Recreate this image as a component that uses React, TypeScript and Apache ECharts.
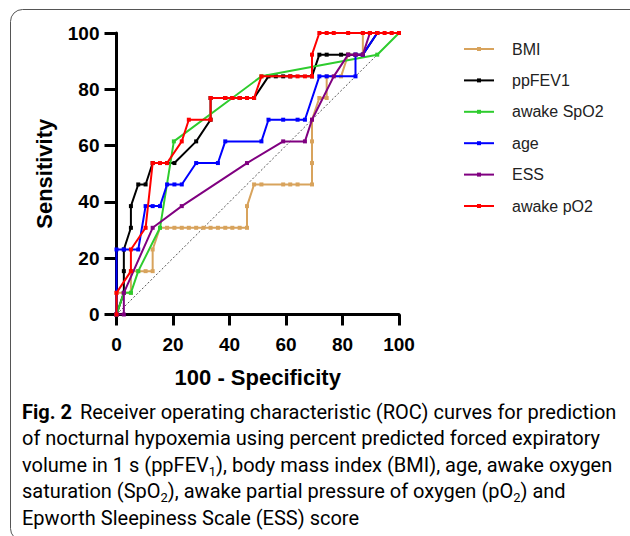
import React, { useEffect, useRef } from "react";
import * as echarts from "echarts";

// ---- data (x = 100 - Specificity, y = Sensitivity) ----
const seriesNames = ["BMI", "ppFEV1", "awake SpO2", "age", "ESS", "awake pO2"];
const xTicks = [0, 20, 40, 60, 80, 100];

const bmiPoints = [
  [0, 0], [0, 7.7], [5.1, 7.7], [5.1, 15.4], [7.7, 15.4], [10.3, 15.4], [12.8, 15.4],
  [12.8, 23.1], [15.4, 30.8], [17.9, 30.8], [20.5, 30.8], [23.1, 30.8], [25.6, 30.8],
  [28.2, 30.8], [30.8, 30.8], [33.3, 30.8], [35.9, 30.8], [38.5, 30.8], [41, 30.8],
  [43.6, 30.8], [46.2, 30.8], [46.2, 38.5], [48.7, 46.2], [51.3, 46.2], [59, 46.2],
  [61.5, 46.2], [64.1, 46.2], [69.2, 46.2], [69.2, 53.8], [69.2, 61.5], [69.2, 69.2],
  [71.8, 76.9], [74.4, 76.9], [74.4, 84.6], [79.5, 84.6], [82, 92.3], [87.2, 92.3],
  [87.2, 100], [100, 100],
];
const ppfevPoints = [
  [0, 0], [2.6, 7.7], [2.6, 15.4], [2.6, 23.1], [5.1, 30.8], [5.1, 38.5], [7.7, 46.2],
  [10.3, 46.2], [12.8, 53.8], [17.9, 53.8], [20.5, 53.8], [28.2, 61.5], [33.3, 69.2],
  [33.3, 76.9], [38.5, 76.9], [41, 76.9], [43.6, 76.9], [46.2, 76.9], [48.7, 76.9],
  [53.8, 84.6], [56.4, 84.6], [59, 84.6], [61.5, 84.6], [69.2, 84.6], [71.8, 92.3],
  [74.4, 92.3], [79.5, 92.3], [82, 92.3], [84.6, 92.3], [87.2, 92.3], [92.3, 100], [100, 100],
];
const spo2Points = [
  [0, 0], [2.6, 7.7], [5.1, 7.7], [7.7, 15.4], [15.4, 30.8], [20.3, 61.5],
  [51.3, 84.6], [92.3, 92.3], [100, 100],
];
const agePoints = [
  [0, 0], [0, 23.1], [2.6, 23.1], [7.7, 23.1], [10.3, 38.5], [12.8, 38.5], [15.4, 38.5],
  [17.9, 46.2], [20.5, 46.2], [23.1, 46.2], [28.2, 53.8], [35.9, 53.8], [38.5, 61.5],
  [51.3, 61.5], [53.8, 69.2], [59, 69.2], [64.1, 69.2], [66.7, 69.2], [71.8, 84.6],
  [74.4, 84.6], [84.6, 84.6], [84.6, 92.3], [87.2, 92.3], [92.3, 100], [100, 100],
];
const essPoints = [
  [0, 0], [2.6, 0], [2.6, 7.7], [12.8, 30.8], [23.1, 38.5], [46.2, 53.8], [59, 61.5],
  [66.7, 61.5], [69.2, 69.2], [76.9, 84.6], [82, 92.3], [84.6, 92.3], [87.2, 92.3],
  [89.7, 100], [100, 100],
];
const po2Points = [
  [0, 0], [0, 7.7], [5.1, 15.4], [5.1, 23.1], [10.3, 30.8], [12.8, 53.8], [15.4, 53.8],
  [17.9, 53.8], [23.1, 61.5], [25.6, 69.2], [33.3, 69.2], [33.3, 76.9], [38.5, 76.9],
  [41, 76.9], [43.6, 76.9], [46.2, 76.9], [48.7, 76.9], [51.3, 84.6], [61.5, 84.6],
  [64.1, 84.6], [66.7, 84.6], [69.2, 84.6], [69.2, 92.3], [71.8, 100], [74.4, 100],
  [76.9, 100], [82, 100], [87.2, 100], [89.7, 100], [92.3, 100], [94.9, 100], [97.4, 100],
  [100, 100],
];
const referencePoints = [[0, 0], [100, 100]];

const seriesColors = ["#D8A35C", "#000000", "#2ECC2E", "#0000FF", "#800080", "#FF0000"];

const captionLines = [
  "{b|Fig. 2}{r| Receiver operating characteristic (ROC) curves for prediction}",
  "{r|of nocturnal hypoxemia using percent predicted forced expiratory}",
  "{r|volume in 1 s (ppFEV}{s|1}{r|), body mass index (BMI), age, awake oxygen}",
  "{r|saturation (SpO}{s|2}{r|), awake partial pressure of oxygen (pO}{s|2}{r|) and}",
  "{r|Epworth Sleepiness Scale (ESS) score}",
];

const FONT = "'Liberation Sans', Arial, sans-serif";
const CAP_FONT = "Roboto, 'Noto Sans', sans-serif";

export default function App() {
  const ref = useRef<HTMLDivElement>(null);
  useEffect(() => {
    if (!ref.current) return;
    const chart = echarts.init(ref.current, null, { renderer: "svg" });
    const allData = [bmiPoints, ppfevPoints, spo2Points, agePoints, essPoints, po2Points];
    const capColor = "#231f20";
    const rich = {
      b: { fontFamily: CAP_FONT, fontSize: 20, fontWeight: "bold", color: capColor, lineHeight: 26, padding: [0, 3, 0, 0] },
      r: { fontFamily: CAP_FONT, fontSize: 20, color: capColor, lineHeight: 26 },
      s: { fontFamily: CAP_FONT, fontSize: 13, color: capColor, lineHeight: 14, verticalAlign: "bottom" },
    };
    chart.setOption({
      animation: false,
      backgroundColor: "#ffffff",
      grid: { left: 116.5, right: 231, top: 33, bottom: 221.5, outerBoundsMode: "none" },
      legend: {
        data: seriesNames,
        orient: "vertical",
        left: 463,
        top: 40,
        padding: 0,
        itemWidth: 30,
        itemHeight: 5,
        itemGap: 13.4,
        textStyle: { fontFamily: FONT, fontSize: 16, color: "#222", lineHeight: 18, padding: [0, 0, 0, 13] },
      },
      xAxis: {
        type: "value",
        min: 0,
        max: 100,
        interval: 20,
        name: "100 - Specificity",
        nameLocation: "middle",
        nameGap: 52,
        nameTextStyle: { fontFamily: FONT, fontSize: 22, fontWeight: "bold", color: "#000" },
        axisLine: { show: true, lineStyle: { color: "#000", width: 3 } },
        axisTick: { show: true, length: 11, lineStyle: { color: "#000", width: 3 } },
        axisLabel: {
          fontFamily: FONT, fontSize: 19, fontWeight: "bold", color: "#000", margin: 20,
          formatter: (v: number) => (xTicks.includes(v) ? String(v) : ""),
        },
        splitLine: { show: false },
      },
      yAxis: {
        type: "value",
        min: 0,
        max: 100,
        interval: 20,
        name: "Sensitivity",
        nameLocation: "middle",
        nameGap: 61,
        nameTextStyle: { fontFamily: FONT, fontSize: 22, fontWeight: "bold", color: "#000" },
        axisLine: { show: true, lineStyle: { color: "#000", width: 3 } },
        axisTick: { show: true, length: 12, lineStyle: { color: "#000", width: 3 } },
        axisLabel: { fontFamily: FONT, fontSize: 19, fontWeight: "bold", color: "#000", margin: 17 },
        splitLine: { show: false },
      },
      series: [
        {
          name: "reference",
          type: "line",
          data: referencePoints,
          symbol: "none",
          silent: true,
          lineStyle: { color: "#555", width: 1, type: [2, 2] },
          z: 1,
        },
        ...seriesNames.map((n, i) => ({
          name: n,
          type: "line",
          data: allData[i],
          symbol: "rect",
          symbolSize: 4,
          color: seriesColors[i],
          itemStyle: { color: seriesColors[i] },
          lineStyle: { color: seriesColors[i], width: 2 },
          z: 2 + i,
        })),
      ],
      graphic: [
        {
          type: "rect",
          shape: { x: 10.5, y: 9.5, width: 700, height: 531, r: 12 },
          style: { fill: "none", stroke: "#555", lineWidth: 1 },
          silent: true,
        },
        ...captionLines.map((t, i) => ({
          type: "text",
          x: 22,
          y: 398.5 + i * 26.5,
          style: { text: t, rich, verticalAlign: "top", align: "left" },
          silent: true,
        })),
      ],
    });
    return () => chart.dispose();
  }, []);
  return (
    <div
      ref={ref}
      style={{ position: "absolute", left: 0, top: 0, width: 630, height: 536 }}
    />
  );
}
